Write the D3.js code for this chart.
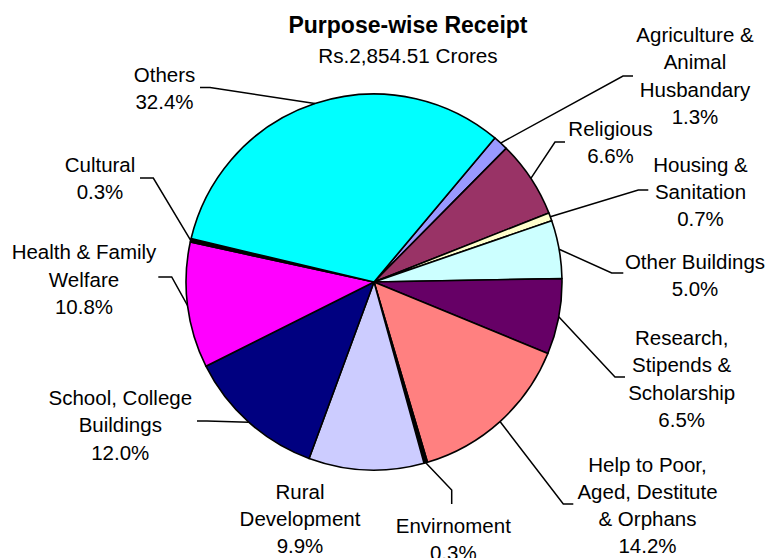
<!DOCTYPE html>
<html>
<head>
<meta charset="utf-8">
<script src="https://cdn.jsdelivr.net/npm/d3@7"></script>
<style>
  html, body { margin: 0; padding: 0; background: #fff; }
  svg { display: block; }
  text { font-family: "Liberation Sans", Arial, sans-serif; fill: #000; }
</style>
</head>
<body>
<svg id="chart" width="770" height="558"></svg>
<script>
// ---- data ----
const categories = [
  "Agriculture & Animal Husbandary", "Religious", "Housing & Sanitation",
  "Other Buildings", "Research, Stipends & Scholarship",
  "Help to Poor, Aged, Destitute & Orphans", "Envirnoment", "Rural Development",
  "School, College Buildings", "Health & Family Welfare", "Cultural", "Others"
];
const shares = [1.3, 6.6, 0.7, 5.0, 6.5, 14.2, 0.3, 9.9, 12.0, 10.8, 0.3, 32.4];
const labelLines = [
  ["Agriculture &", "Animal", "Husbandary"],
  ["Religious"],
  ["Housing &", "Sanitation"],
  ["Other Buildings"],
  ["Research,", "Stipends &", "Scholarship"],
  ["Help to Poor,", "Aged, Destitute", "& Orphans"],
  ["Envirnoment"],
  ["Rural", "Development"],
  ["School, College", "Buildings"],
  ["Health & Family", "Welfare"],
  ["Cultural"],
  ["Others"]
];
const colors = ["#9999FF", "#993366", "#FFFFCC", "#CCFFFF", "#660066", "#FF8080",
                "#000000", "#CCCCFF", "#000080", "#FF00FF", "#000000", "#00FFFF"];
const title = "Purpose-wise Receipt";
const subtitle = "Rs.2,854.51 Crores";

// ---- layout (label placement, not data) ----
const cx = 374, cy = 282, R = 188;
const startDeg = 40;
const lineH = 27.3;
// label: centre x, first baseline y; leader: [label end point, elbow point]
const labelLayout = [
  { x: 695,   y: 42,    leader: [[633, 76], [623, 76]] },
  { x: 610.5, y: 136,   leader: [[565, 142], [555, 142]] },
  { x: 700.5, y: 171.7, leader: [[648.3, 190], [638.3, 190]] },
  { x: 695,   y: 268.5, leader: [[623.3, 273], [611.7, 273]] },
  { x: 681.7, y: 345,   leader: [[625, 377], [615, 377]] },
  { x: 647.5, y: 471.5, leader: [[573.3, 504], [563.3, 504]] },
  { x: 453.3, y: 532.5, leader: [[451.7, 504], [451.7, 490]] },
  { x: 300,   y: 498.5, leader: null },
  { x: 120.3, y: 405,   leader: [[197, 421], [207, 421]] },
  { x: 84,    y: 259.3, leader: [[158.3, 277], [171.7, 277]] },
  { x: 100,   y: 171.7, leader: [[140, 178], [153.3, 178]] },
  { x: 164.5, y: 81.7,  leader: [[200, 87.5], [210, 87.5]] }
];

const svg = d3.select("#chart");

// title
svg.append("text").attr("x", 408).attr("y", 33).attr("text-anchor", "middle")
  .style("font-size", "23px").style("font-weight", "bold").text(title);
svg.append("text").attr("x", 408).attr("y", 63).attr("text-anchor", "middle")
  .style("font-size", "20.7px").text(subtitle);

const data = categories.map((c, i) => ({ name: c, value: shares[i], i }));
const toRad = d => d * Math.PI / 180;
const pie = d3.pie().value(d => d.value).sort(null)
  .startAngle(toRad(startDeg)).endAngle(toRad(startDeg + 360));
const arcs = pie(data);
const arcGen = d3.arc().innerRadius(0).outerRadius(R);

const g = svg.append("g").attr("transform", `translate(${cx},${cy})`);
g.selectAll("path.slice").data(arcs).enter().append("path")
  .attr("class", "slice")
  .attr("d", arcGen)
  .attr("fill", d => colors[d.data.i])
  .attr("stroke", "#000").attr("stroke-width", 1.6)
  .attr("stroke-linejoin", "round");

// leader lines
arcs.forEach(a => {
  const L = labelLayout[a.data.i];
  if (!L.leader) return;
  const mid = (a.startAngle + a.endAngle) / 2;
  const px = cx + R * Math.sin(mid), py = cy - R * Math.cos(mid);
  const pts = [L.leader[0], L.leader[1], [px, py]];
  svg.append("path").attr("d", d3.line()(pts))
    .attr("fill", "none").attr("stroke", "#000").attr("stroke-width", 1.5);
});

// labels
arcs.forEach(a => {
  const L = labelLayout[a.data.i];
  const lines = labelLines[a.data.i].concat([d3.format(".1f")(a.data.value) + "%"]);
  const t = svg.append("text").attr("text-anchor", "middle").style("font-size", "20.5px");
  lines.forEach((ln, k) => {
    t.append("tspan").attr("x", L.x).attr("y", L.y + k * lineH).text(ln);
  });
});
</script>
</body>
</html>
